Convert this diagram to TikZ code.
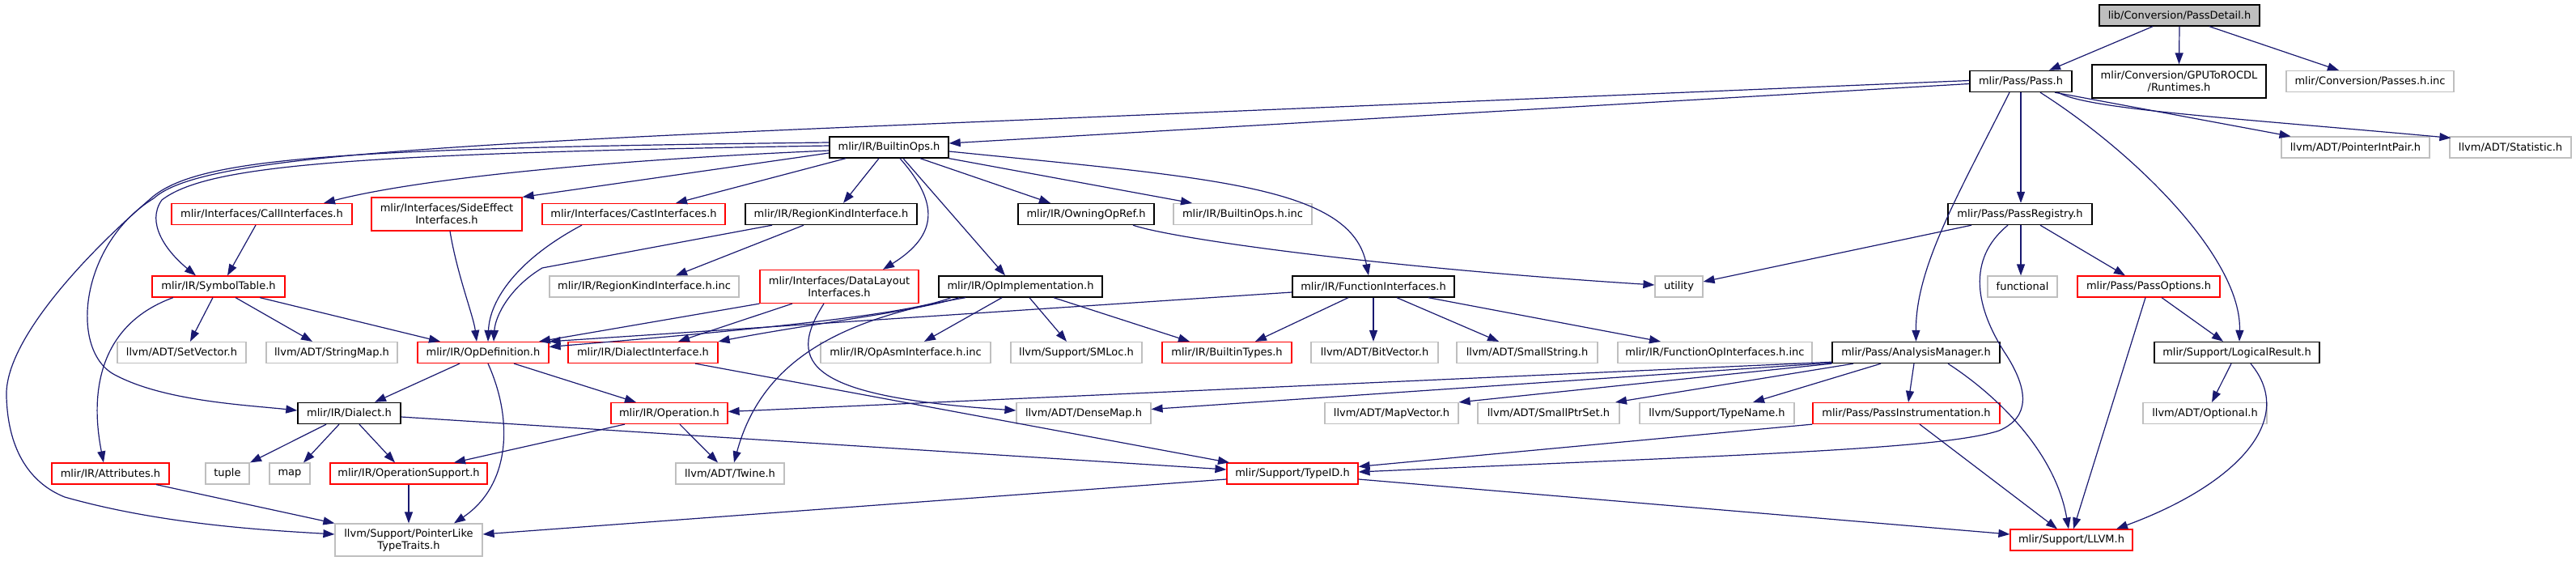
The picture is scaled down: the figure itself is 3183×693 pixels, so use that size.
\documentclass[tikz,border=0pt]{standalone}
\usepackage{fontspec}
\setmainfont{DejaVu Sans}
\usetikzlibrary{arrows.meta,calc}
\definecolor{edgeblue}{HTML}{191970}
\definecolor{lgray}{HTML}{BFBFBF}
\definecolor{dred}{HTML}{FF0000}
\tikzset{
 nb/.style={inner sep=0pt, minimum height=26pt, align=center, font=\fontsize{13}{15}\selectfont, line width=1.2pt, fill=white},
 blk/.style={nb, draw=black, line width=1.4pt},
 rbox/.style={nb, draw=dred},
 gbox/.style={nb, draw=lgray},
 dep/.style={draw=edgeblue, line width=1.2pt, -{Triangle[length=14pt,width=10pt]}},
}
\begin{document}
\begin{tikzpicture}[x=1pt,y=-1pt]
\useasboundingbox (0,0) rectangle (3183,693);
% row 0
\node[blk, fill=lgray, minimum width=198pt] (pd) at (2693,19) {lib/Conversion/PassDetail.h};
% row 1
\node[blk, minimum width=126pt] (pass) at (2497,100.5) {mlir/Pass/Pass.h};
\node[blk, minimum width=215pt, minimum height=41pt] (gpu) at (2692.5,100.5) {mlir/Conversion/GPUToROCDL\\/Runtimes.h};
\node[gbox, minimum width=207pt] (passinc) at (2928.5,100.5) {mlir/Conversion/Passes.h.inc};
% row 2
\node[blk, minimum width=147pt] (bops) at (1098.5,182) {mlir/IR/BuiltinOps.h};
\node[gbox, minimum width=183pt] (pip) at (2910.5,182) {llvm/ADT/PointerIntPair.h};
\node[gbox, minimum width=150pt] (stat) at (3102,182) {llvm/ADT/Statistic.h};
% row 3
\node[rbox, minimum width=223pt] (call) at (323.5,264.5) {mlir/Interfaces/CallInterfaces.h};
\node[rbox, minimum width=186pt, minimum height=41pt] (side) at (552,264.5) {mlir/Interfaces/SideEffect\\Interfaces.h};
\node[rbox, minimum width=226pt] (cast) at (783,264.5) {mlir/Interfaces/CastInterfaces.h};
\node[blk, minimum width=212pt] (rki) at (1027,264.5) {mlir/IR/RegionKindInterface.h};
\node[blk, minimum width=168pt] (owning) at (1342,264.5) {mlir/IR/OwningOpRef.h};
\node[gbox, minimum width=171pt] (bopsinc) at (1535.5,264.5) {mlir/IR/BuiltinOps.h.inc};
\node[blk, minimum width=178pt] (preg) at (2496,264.5) {mlir/Pass/PassRegistry.h};
% row 4
\node[rbox, minimum width=164pt] (sym) at (270,354) {mlir/IR/SymbolTable.h};
\node[gbox, minimum width=234pt] (rkiinc) at (796,354) {mlir/IR/RegionKindInterface.h.inc};
\node[rbox, minimum width=196pt, minimum height=41pt] (dl) at (1037,354) {mlir/Interfaces/DataLayout\\Interfaces.h};
\node[blk, minimum width=202pt] (opimpl) at (1261,354) {mlir/IR/OpImplementation.h};
\node[blk, minimum width=200pt] (fi) at (1697,354) {mlir/IR/FunctionInterfaces.h};
\node[gbox, minimum width=59pt] (util) at (2074.5,354) {utility};
\node[gbox, minimum width=86pt] (func) at (2499,354) {functional};
\node[rbox, minimum width=176pt] (popt) at (2655,354) {mlir/Pass/PassOptions.h};
% row 5
\node[gbox, minimum width=159pt] (setv) at (224.5,435.5) {llvm/ADT/SetVector.h};
\node[gbox, minimum width=162pt] (smap) at (410,435.5) {llvm/ADT/StringMap.h};
\node[rbox, minimum width=162pt] (opdef) at (597,435.5) {mlir/IR/OpDefinition.h};
\node[rbox, minimum width=185pt] (dint) at (794.5,435.5) {mlir/IR/DialectInterface.h};
\node[gbox, minimum width=210pt] (oasm) at (1119,435.5) {mlir/IR/OpAsmInterface.h.inc};
\node[gbox, minimum width=162pt] (smloc) at (1330,435.5) {llvm/Support/SMLoc.h};
\node[rbox, minimum width=160pt] (btypes) at (1516,435.5) {mlir/IR/BuiltinTypes.h};
\node[gbox, minimum width=157pt] (bitv) at (1698.5,435.5) {llvm/ADT/BitVector.h};
\node[gbox, minimum width=174pt] (sstr) at (1887,435.5) {llvm/ADT/SmallString.h};
\node[gbox, minimum width=240pt] (foinc) at (2119,435.5) {mlir/IR/FunctionOpInterfaces.h.inc};
\node[blk, minimum width=207pt] (am) at (2367.5,435.5) {mlir/Pass/AnalysisManager.h};
\node[blk, minimum width=204pt] (lres) at (2764,435.5) {mlir/Support/LogicalResult.h};
% row 6
\node[blk, minimum width=127pt] (dialect) at (431.5,510.5) {mlir/IR/Dialect.h};
\node[rbox, minimum width=144pt] (oper) at (827,510.5) {mlir/IR/Operation.h};
\node[gbox, minimum width=166pt] (dmap) at (1339,510.5) {llvm/ADT/DenseMap.h};
\node[gbox, minimum width=165pt] (mvec) at (1719.5,510.5) {llvm/ADT/MapVector.h};
\node[gbox, minimum width=175pt] (sptr) at (1913.5,510.5) {llvm/ADT/SmallPtrSet.h};
\node[gbox, minimum width=191pt] (tname) at (2121.5,510.5) {llvm/Support/TypeName.h};
\node[rbox, minimum width=231pt] (pinst) at (2355.5,510.5) {mlir/Pass/PassInstrumentation.h};
\node[gbox, minimum width=153pt] (opt) at (2724.5,510.5) {llvm/ADT/Optional.h};
% row 7
\node[rbox, minimum width=145pt] (attr) at (136.5,585) {mlir/IR/Attributes.h};
\node[gbox, minimum width=54pt] (tuple) at (281,585) {tuple};
\node[gbox, minimum width=50pt] (map) at (358,585) {map};
\node[rbox, minimum width=194pt] (osup) at (505,585) {mlir/IR/OperationSupport.h};
\node[gbox, minimum width=134pt] (twine) at (902,585) {llvm/ADT/Twine.h};
\node[rbox, minimum width=162pt] (typeid) at (1597,585) {mlir/Support/TypeID.h};
% row 8
\node[gbox, minimum width=182pt, minimum height=40pt] (plt) at (505,667) {llvm/Support/PointerLike\\TypeTraits.h};
\node[rbox, minimum width=151pt] (llvm) at (2559.5,667) {mlir/Support/LLVM.h};

% ---- edges ----
\draw[dep] ($(pd.south)+(-33,0)$) -- ($(pass.north)+(35,0)$);
\draw[dep] (pd.south) -- (gpu.north);
\draw[dep] ($(pd.south)+(37,0)$) -- ($(passinc.north)+(-38.5,0)$);
% Pass.h
\draw[dep] ($(pass.west)+(0,3)$) -- ($(bops.east)+(0,-5)$);
\draw[dep] ($(pass.west)+(0,-1)$) -- (1100,155) .. controls (450,182) and (240,200) .. (190,245) .. controls (100,300) and (85,430) .. (140,462) .. controls (200,495) and (300,500) .. ($(dialect.west)+(0,-3.5)$);
\draw[dep] ($(pass.south)+(-14,0)$) .. controls (2420,240) and (2367,330) .. (am.north);
\draw[dep] (pass.south) -- ($(preg.north)+(1,0)$);
\draw[dep] ($(pass.south)+(24,0)$) .. controls (2640,190) and (2770,320) .. ($(lres.north)+(3,0)$);
\draw[dep] ($(pass.south)+(42,0)$) -- ($(pip.north)+(-80,0)$);
\draw[dep] ($(pass.south)+(46,0)$) .. controls (2580,135) and (2750,145) .. ($(stat.north west)+(2,2)$);
% BuiltinOps.h
\draw[dep] ($(bops.west)+(0,-6)$) .. controls (420,183) and (250,195) .. (190,242) .. controls (110,310) and (5,420) .. (8,490) .. controls (10,560) and (40,598) .. (80,614) .. controls (200,648) and (330,655) .. ($(plt.west)+(0,-7)$);
\draw[dep] ($(bops.west)+(0,-2)$) .. controls (420,190) and (255,205) .. (200,247) .. controls (180,275) and (205,310) .. ($(sym.north)+(-28,0)$);
\draw[dep] ($(bops.west)+(0,4)$) .. controls (700,200) and (500,225) .. ($(call.north)+(76.5,0)$);
\draw[dep] ($(bops.west)+(0,7)$) -- (side.north east);
\draw[dep] ($(bops.south)+(-53.5,0)$) -- ($(cast.north)+(52,0)$);
\draw[dep] ($(bops.south)+(-12.5,0)$) -- ($(rki.north)+(15,0)$);
\draw[dep] ($(bops.south)+(13.5,0)$) .. controls (1160,250) and (1160,290) .. ($(dl.north)+(54,0)$);
\draw[dep] ($(bops.south)+(17.5,0)$) -- ($(opimpl.north)+(-19,0)$);
\draw[dep] ($(bops.south)+(38.5,0)$) -- ($(owning.north)+(-44,0)$);
\draw[dep] (bops.south east) -- ($(bopsinc.north)+(-62.5,0)$);
\draw[dep] ($(bops.east)+(0,5)$) .. controls (1500,220) and (1670,230) .. ($(fi.north)+(-6,0)$);
% PassRegistry.h
\draw[dep] ($(preg.south)+(-60,0)$) -- ($(util.east)+(0,-6)$);
\draw[dep] ($(preg.south)+(1,0)$) -- ($(func.north)+(-2,0)$);
\draw[dep] ($(preg.south)+(25,0)$) -- ($(popt.north)+(-29,0)$);
\draw[dep] ($(preg.south)+(-15,0)$) .. controls (2430,320) and (2440,380) .. (2480,440) .. controls (2505,480) and (2510,515) .. (2470,532) .. controls (2400,555) and (2150,562) .. ($(typeid.east)+(0,-2)$);
% OwningOpRef.h
\draw[dep] ($(owning.south)+(58,0)$) .. controls (1450,295) and (1700,330) .. ($(util.west)+(0,-2)$);
% PassOptions.h
\draw[dep] ($(popt.south)+(16,0)$) -- ($(lres.north)+(-17,0)$);
\draw[dep] ($(popt.south)+(-4,0)$) -- ($(llvm.north)+(2.5,0)$);
% LogicalResult.h
\draw[dep] ($(lres.south)+(-7,0)$) -- ($(opt.north)+(8.5,0)$);
\draw[dep] ($(lres.south)+(17,0)$) .. controls (2840,520) and (2760,600) .. ($(llvm.north)+(55.5,0)$);
% AnalysisManager.h
\draw[dep] ($(am.south)+(-2.5,0)$) -- ($(pinst.north)+(2.5,0)$);
\draw[dep] ($(am.south)+(-43.5,0)$) -- ($(tname.north)+(44.5,0)$);
\draw[dep] ($(am.south)+(39.5,0)$) .. controls (2470,490) and (2540,560) .. ($(llvm.north)+(-3.5,0)$);
\draw[dep] ($(am.south)+(-77.5,0)$) -- ($(sptr.north)+(82.5,0)$);
\draw[dep] (am.south west) -- (mvec.north east);
\draw[dep] ($(am.south west)+(0,-1)$) -- ($(dmap.east)+(0,-5)$);
\draw[dep] ($(am.south west)+(0,-2)$) -- ($(oper.east)+(0,-2)$);
% PassInstrumentation.h
\draw[dep] ($(pinst.south)+(16.5,0)$) -- ($(llvm.north)+(-17.5,0)$);
\draw[dep] (pinst.south west) -- ($(typeid.north east)+(0,5)$);
% TypeID.h
\draw[dep] ($(typeid.east)+(0,7)$) -- ($(llvm.west)+(0,-7)$);
\draw[dep] ($(typeid.west)+(0,7)$) -- ($(plt.east)+(0,-7)$);
% FunctionInterfaces.h
\draw[dep] ($(fi.west)+(0,7)$) -- (opdef.north east);
\draw[dep] ($(fi.south)+(-31,0)$) -- ($(btypes.north)+(35,0)$);
\draw[dep] (fi.south) -- ($(bitv.north)+(-1.5,0)$);
\draw[dep] ($(fi.south)+(29,0)$) -- ($(sstr.north)+(-35,0)$);
\draw[dep] ($(fi.south)+(68,0)$) -- ($(foinc.north)+(-67,0)$);
% OpImplementation.h
\draw[dep] ($(opimpl.south)+(-23,0)$) -- ($(oasm.north)+(23,0)$);
\draw[dep] ($(opimpl.south)+(11,0)$) -- ($(smloc.north)+(-12,0)$);
\draw[dep] ($(opimpl.south)+(41,0)$) -- ($(btypes.north)+(-46,0)$);
\draw[dep] ($(opimpl.south)+(-68,0)$) .. controls (1030,395) and (940,450) .. ($(twine.north)+(5,0)$);
\draw[dep] ($(opimpl.south)+(-86,0)$) .. controls (1120,390) and (900,410) .. ($(opdef.east)+(0,-7)$);
\draw[dep] ($(opimpl.south)+(-76,0)$) .. controls (1130,385) and (1000,400) .. (dint.north east);
% DataLayoutInterfaces.h
\draw[dep] (dl.south west) -- ($(opdef.north)+(69,0)$);
\draw[dep] ($(dl.south)+(-58,0)$) -- ($(dint.north)+(43.5,0)$);
\draw[dep] ($(dl.south)+(-19,0)$) .. controls (970,450) and (1000,490) .. ($(dmap.west)+(0,-3.5)$);
% RegionKindInterface.h
\draw[dep] ($(rki.south)+(-73,0)$) -- (670,331) .. controls (630,355) and (612,390) .. ($(opdef.north)+(13,0)$);
\draw[dep] ($(rki.south)+(-34,0)$) -- ($(rkiinc.north)+(39,0)$);
% Cast, SideEffect, Call
\draw[dep] ($(cast.south)+(-64,0)$) .. controls (640,320) and (605,370) .. ($(opdef.north)+(6,0)$);
\draw[dep] ($(side.south)+(4,0)$) .. controls (565,340) and (585,390) .. ($(opdef.north)+(-8,0)$);
\draw[dep] ($(call.south)+(-7.5,0)$) -- ($(sym.north)+(11,0)$);
% SymbolTable.h
\draw[dep] ($(sym.south)+(-56,0)$) .. controls (125,400) and (110,480) .. ($(attr.north)+(-8.5,0)$);
\draw[dep] ($(sym.south)+(-7,0)$) -- ($(setv.north)+(10.5,0)$);
\draw[dep] ($(sym.south)+(21,0)$) -- ($(smap.north)+(-24,0)$);
\draw[dep] ($(sym.south)+(51,0)$) -- ($(opdef.north)+(-53,0)$);
% OpDefinition.h
\draw[dep] ($(opdef.south)+(-29,0)$) -- ($(dialect.north)+(31.5,0)$);
\draw[dep] ($(opdef.south)+(38,0)$) -- ($(oper.north)+(-41,0)$);
\draw[dep] ($(opdef.south)+(6,0)$) .. controls (635,520) and (630,600) .. ($(plt.north)+(56,0)$);
% DialectInterface.h
\draw[dep] ($(dint.south)+(64.5,0)$) -- ($(typeid.north)+(-78,0)$);
% Dialect.h
\draw[dep] ($(dialect.south)+(-28.5,0)$) -- ($(tuple.north)+(28,0)$);
\draw[dep] ($(dialect.south)+(-12.5,0)$) -- ($(map.north)+(17,0)$);
\draw[dep] ($(dialect.south)+(12.5,0)$) -- ($(osup.north)+(-17,0)$);
\draw[dep] ($(dialect.east)+(0,4.5)$) -- ($(typeid.west)+(0,-5)$);
% Operation.h
\draw[dep] ($(oper.south)+(-55,0)$) -- ($(osup.north)+(56,0)$);
\draw[dep] ($(oper.south)+(13,0)$) -- ($(twine.north)+(-15,0)$);
% Attributes.h, OperationSupport.h
\draw[dep] ($(attr.south)+(56.5,0)$) -- (plt.north west);
\draw[dep] (osup.south) -- (plt.north);
\end{tikzpicture}
\end{document}
